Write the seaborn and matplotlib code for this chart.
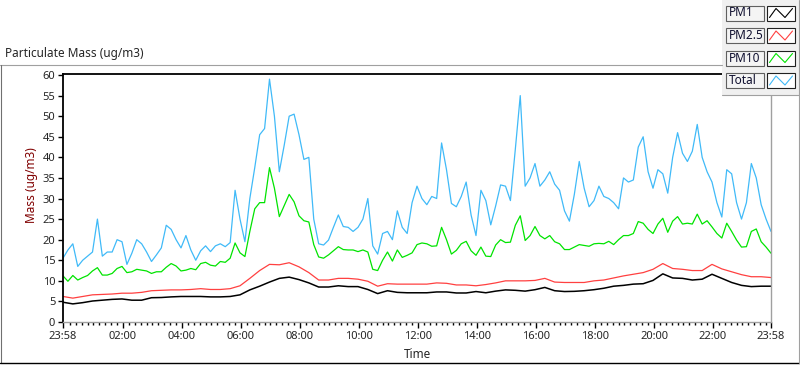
import numpy as np
import matplotlib
matplotlib.use("Agg")
import matplotlib.pyplot as plt
from matplotlib.patches import Rectangle
import seaborn as sns

series_names = ["PM1", "PM2.5", "PM10", "Total"]
series_colors = ["#000000", "#ff4040", "#00e400", "#40baf8"]

# sample times in hours, starting 23:58 the evening before
t_fast = np.arange(-2, 1440, 10) / 60   # 10 min steps
t_slow = np.arange(-2, 1440, 20) / 60   # 20 min steps

total = [15.5, 17.5, 19, 13.5, 15, 16, 17, 25, 16, 17,
         17, 20, 19.5, 14, 16.7, 20, 19, 17, 14.7, 16.3,
         18, 23.5, 22.5, 20, 18, 21, 17.5, 15, 17.3, 18.5,
         17.1, 18.5, 19, 18.3, 19.3, 32, 25,
         19.5, 30, 37.5, 45.5, 47, 59, 50, 36.5, 43, 50,
         50.5, 45.5, 39.5, 40, 25, 19, 18.7, 19.9, 23, 26,
         23.2, 23, 22, 23, 25, 30, 18.5, 16.5, 21.5, 22,
         20, 27, 23, 21.5, 29, 33, 30,
         28.5, 30.5, 30, 43.5, 37, 28.8, 28, 30.5, 34, 26,
         21, 32, 29.5, 23.6, 28.2, 33.3, 33, 29.5, 42, 55,
         33, 35, 38.5, 33, 34.5, 36.5, 33.5, 32, 27, 24.5,
         31, 39, 32.5, 28, 29.5, 33,
         30.5, 30, 29, 27.5, 35, 34, 34.5, 42.5, 45, 36.5,
         32.5, 37, 36, 31.3, 40, 46, 41, 39, 41.5, 48,
         40, 36.5, 34, 29, 25.5, 37, 36, 29, 25, 29,
         38.5, 35, 28.5, 25, 22]

pm10 = [11.2, 9.9, 11.3, 10.2, 10.8, 11.3, 12.4, 13.2, 11.4, 11.4,
        11.8, 13, 13.5, 12, 12.2, 12.8, 12.6, 12.4, 11.8, 12.2,
        12.2, 13.3, 14.2, 13.6, 12.4, 12.6, 13, 12.7, 14.2, 14.5,
        13.8, 13.6, 14.7, 14.5, 15.5, 19.2, 16.8,
        15.9, 22, 27.5, 29, 29, 37.5, 32.5, 25.6, 28.3, 31,
        29.2, 25.8, 24.6, 24.3, 18.8, 15.8, 15.5, 16.3, 17.3, 18.3,
        17.6, 17.5, 17.5, 17.1, 17.5, 17, 12.8, 12.5, 15, 17,
        14.8, 17.5, 15.7, 16.2, 16.8, 18.8, 19.2,
        19, 18.4, 18.5, 23, 20, 16.5, 17.4, 19, 19.6, 17.3,
        16.2, 18.2, 16, 15.9, 18.7, 20, 19.3, 19.4, 23.5, 25.8,
        19.8, 21, 23.2, 21, 20.2, 21, 19.5, 19, 17.6, 17.6,
        18.2, 18.8, 18.6, 18.4, 19, 19.1,
        19, 19.6, 18.8, 20, 21, 21, 21.5, 24.4, 24, 22.5,
        21.5, 23.8, 25.2, 21.8, 24.5, 25.6, 23.8, 24, 23.8, 26.2,
        23.8, 24.6, 23.1, 21.5, 20.4, 24, 22, 19.9, 18.2, 18.3,
        22, 22.6, 19.5, 18.2, 16.7]

pm25 = [6.2, 5.8, 6.2, 6.6, 6.7, 6.8, 7, 7, 7.2, 7.6,
        7.7, 7.8, 7.8, 7.9, 8.1, 7.9, 7.9, 8.1, 8.8,
        10.6, 12.5, 14, 13.9, 14.4, 13.4, 12, 10.2, 10.2, 10.6,
        10.6, 10.4, 9.9, 8.7, 9.3, 9.2, 9.2, 9.2,
        9.2, 9.5, 9.4, 9, 9, 8.8, 9.1, 9.5, 10, 10,
        10, 10.1, 10.6, 9.7, 9.6, 9.6, 9.6, 10,
        10.2, 10.7, 11.2, 11.6, 12, 12.8, 14.2, 13, 12.8, 12.5,
        12.5, 14, 12.9, 12.2, 11.5, 11, 11, 10.8]

pm1 = [4.8, 4.4, 4.7, 5.1, 5.3, 5.5, 5.6, 5.3, 5.3, 5.9,
       5.95, 6.1, 6.2, 6.2, 6.2, 6.1, 6.1, 6.2, 6.6,
       7.8, 8.7, 9.7, 10.6, 10.9, 10.3, 9.5, 8.5, 8.5, 8.8,
       8.6, 8.6, 7.9, 6.9, 7.6, 7.2, 7.1, 7.1,
       7.1, 7.3, 7.3, 7.05, 7.05, 7.4, 7.1, 7.5, 7.8, 7.7,
       7.5, 7.85, 8.4, 7.6, 7.4, 7.45, 7.6, 7.85,
       8.2, 8.7, 8.9, 9.2, 9.3, 10.1, 11.7, 10.7, 10.6, 10.2,
       10.4, 11.6, 10.6, 9.6, 8.9, 8.6, 8.7, 8.7]

x_ticks = [-2 / 60, 2, 4, 6, 8, 10, 12, 14, 16, 18, 20, 22, 24 - 2 / 60]
x_labels = ["23:58", "02:00", "04:00", "06:00", "08:00", "10:00", "12:00",
            "14:00", "16:00", "18:00", "20:00", "22:00", "23:58"]
y_ticks = list(range(0, 61, 5))

sns.set_style("white")
plt.rcParams["font.family"] = ["Noto Sans", "DejaVu Sans"]

fig = plt.figure(figsize=(8, 3.65), dpi=100)
ax = fig.add_axes([63 / 800, 43 / 365, 708 / 800, 248 / 365])

plot_data = [(t_slow, pm1, 1.1), (t_slow, pm25, 0.9), (t_fast, pm10, 0.9), (t_fast, total, 0.9)]
for (t, vals, lw), col in zip(plot_data, series_colors):
    sns.lineplot(x=t, y=vals, color=col, lw=lw, ax=ax)

ax.set_xlim(-2 / 60, 24 - 2 / 60)
ax.set_ylim(0, 60.25)
ax.set_xticks(x_ticks)
ax.set_xticklabels(x_labels)
ax.set_xticks([m / 5 for m in range(1, 120) if m % 10 != 0], minor=True)
ax.set_yticks(y_ticks)

ax.tick_params(which="both", bottom=True, left=True, direction="out",
               color="black", width=1, labelsize=8, pad=2)
ax.tick_params(axis="x", which="major", length=4.5)
ax.tick_params(axis="x", which="minor", length=2.3)
ax.tick_params(axis="y", length=3.6)

for side in ["top", "left"]:
    ax.spines[side].set_color("black")
    ax.spines[side].set_linewidth(1.3)
for side in ["right", "bottom"]:
    ax.spines[side].set_color("#a0a0a0")
    ax.spines[side].set_linewidth(1)

ax.set_xlabel("Time", fontsize=8.5, labelpad=4)
ax.set_ylabel("")
fig.text(31 / 800, 1 - 185 / 365, "Mass (ug/m3)", rotation=90, ha="center", va="center",
         fontsize=8.5, color="#800000")
fig.text(5 / 800, 1 - 53 / 365, "Particulate Mass (ug/m3)", ha="left", va="center", fontsize=8.5)

# panel frame and LabVIEW style legend, drawn in pixel units
ov = fig.add_axes([0, 0, 1, 1], zorder=10)
ov.set_xlim(0, 800)
ov.set_ylim(365, 0)
ov.axis("off")

ov.plot([0, 722], [65, 65], color="#a0a0a0", lw=0.8)
ov.plot([0.5, 0.5], [65, 363], color="#707070", lw=0.8)
ov.plot([0, 800], [362.5, 362.5], color="black", lw=1)
ov.plot([799, 799], [0, 363], color="#a0a0a0", lw=0.8)

ov.add_patch(Rectangle((722, 0), 77, 95, facecolor="#f0f0f0", edgecolor="none"))
ov.plot([722, 799], [95, 95], color="#a0a0a0", lw=0.8)

for i, (name, col) in enumerate(zip(series_names, series_colors)):
    cy = 13 + 22.5 * i
    ov.add_patch(Rectangle((726, cy - 7.5), 38, 15, facecolor="#f4f4f4",
                           edgecolor="#606060", lw=0.8))
    ov.text(729, cy, name, ha="left", va="center", fontsize=8.5, color="#101030")
    ov.add_patch(Rectangle((767, cy - 7.5), 28, 15, facecolor="white",
                           edgecolor="#202020", lw=0.8))
    ov.plot([769.5, 776, 785, 792.5], [cy + 4.5, cy - 4.5, cy + 4.5, cy - 4.5],
            color=col, lw=0.8)

fig.savefig("out.png", dpi=100)
